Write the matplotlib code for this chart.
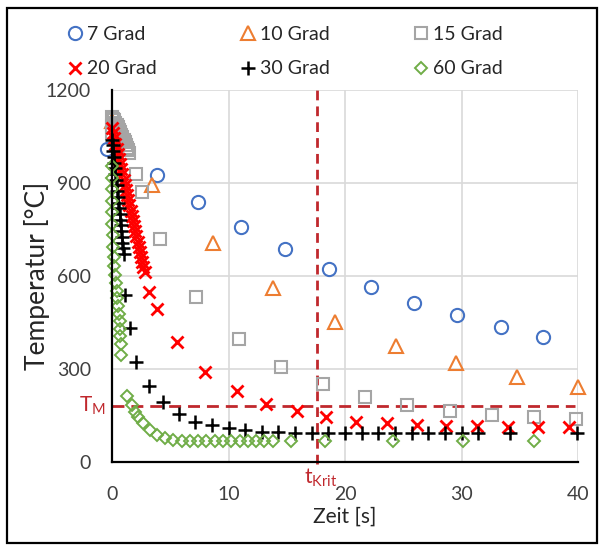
import numpy as np
import matplotlib
matplotlib.use("Agg")
import matplotlib.pyplot as plt
from matplotlib.patches import Rectangle

plt.rcParams['font.family'] = ['Lato', 'DejaVu Sans']
plt.rcParams['mathtext.fontset'] = 'custom'
plt.rcParams['mathtext.rm'] = 'Lato'
plt.rcParams['mathtext.it'] = 'Lato'

# Data (Zeit [s], Temperatur [°C])

t7 = [-0.4, 3.9, 7.4, 11.1, 14.85, 18.6, 22.2, 25.95, 29.6, 33.4, 37.0]
T7 = [1010, 926, 839, 758, 687, 622, 563, 514, 473, 435, 402]

t10 = [0.0, 3.46, 8.7, 13.85, 19.1, 24.4, 29.5, 34.8, 40.0]
T10 = [1100, 893, 705, 560, 453, 375, 320, 273, 243]

t15 = [0.0, 0.0, 0.0, 0.1, 0.2, 0.3, 0.4, 0.5, 0.6, 0.7, 0.8, 0.9, 1.0, 1.1, 1.2, 1.3, 1.4, 1.5,
       2.06, 2.55, 4.12, 7.25, 10.9, 14.5, 18.1, 21.7, 25.3, 29.0, 32.6, 36.25, 39.8]
T15 = [1112, 1085, 1060, 1108, 1102, 1095, 1087, 1080, 1072, 1064, 1056, 1048, 1040, 1031, 1022, 1014, 1005, 997,
       929, 870, 718, 533, 396, 308, 251, 211, 183, 163, 152, 144, 140]

t20 = [0.0, 0.1, 0.2, 0.3, 0.4, 0.5, 0.6, 0.7, 0.8, 0.9, 1.0, 1.1, 1.2, 1.3, 1.4, 1.5, 1.6, 1.7, 1.8, 1.9,
       2.0, 2.1, 2.2, 2.3, 2.4, 2.5, 2.6, 2.7, 2.8,
       3.2, 3.9, 5.55, 8.0, 10.7, 13.2, 15.85, 18.4, 20.95, 23.6, 26.2, 28.7, 31.3, 34.0, 36.6, 39.2]
T20 = [1077, 1060, 1044, 1027, 1011, 994, 977, 961, 944, 928, 911, 894, 878, 861, 845, 828, 811, 795, 778, 761,
       745, 728, 711, 695, 678, 662, 645, 628, 612,
       549, 492, 388, 289, 230, 187, 165, 146, 130, 125, 119, 117, 116, 112, 112, 112]

t30 = [0.0, 0.05, 0.1, 0.15, 0.2, 0.25, 0.3, 0.35, 0.4, 0.45, 0.5, 0.55, 0.6, 0.65, 0.7, 0.75, 0.8, 0.85,
       0.9, 0.95, 1.0,
       1.1, 1.55, 2.1, 3.2, 4.4, 5.75, 7.1, 8.6, 10.0, 11.45, 12.9, 14.25, 15.7, 17.15, 18.55, 20.0, 21.45,
       22.8, 24.3, 25.75, 27.1, 28.6, 30.0, 31.4, 34.2, 39.9]
T30 = [1040, 1022, 1003, 985, 966, 948, 929, 911, 892, 874, 855, 837, 818, 800, 781, 763, 744, 726,
       707, 689, 670,
       539, 431, 324, 245, 195, 156, 130, 119, 111, 103, 98, 96, 95, 95, 95, 95, 95,
       95, 95, 95, 95, 95, 95, 95, 95, 95]

t60 = [0.0, 0.0, 0.0, 0.0, 0.02, 0.04, 0.07, 0.1, 0.15, 0.2, 0.26, 0.33, 0.4, 0.46, 0.54, 0.6, 0.65,
       0.69, 0.72, 0.74, 0.76,
       1.26, 1.7, 1.97, 2.26, 2.7, 3.26, 3.84, 4.55, 5.26, 5.98, 6.7, 7.4, 8.1, 8.8, 9.5, 10.2, 10.95,
       11.65, 12.35, 13.05, 13.8, 15.4, 18.3, 24.1, 30.1, 36.2]
T60 = [955, 917, 880, 842, 805, 768, 731, 695, 660, 632, 604, 578, 553, 528, 502, 478, 455,
       430, 405, 380, 345,
       213, 184, 162, 146, 125, 103, 87, 77, 71, 69, 68, 68, 67, 67, 67, 67, 67,
       67, 67, 67, 67, 68, 68, 68, 68, 68]

T_M = 180
t_krit = 17.6

red_dash = '#C0282D'
tick_col = '#404040'

fig = plt.figure(figsize=(6.04, 5.45), dpi=100)
ax = fig.add_axes([112/604, 1 - 462/545, 466/604, 372/545])

ax.plot(t7, T7, 'o', ls='none', ms=9.5, mfc='none', mec='#4472C4', mew=1.5, label='7 Grad', clip_on=False)
ax.plot(t10, T10, '^', ls='none', ms=9.5, mfc='none', mec='#ED7D31', mew=1.5, label='10 Grad', clip_on=False)
ax.plot(t15, T15, 's', ls='none', ms=9, mfc='none', mec='#A5A5A5', mew=1.5, label='15 Grad', clip_on=False)
ax.plot(t20, T20, 'x', ls='none', ms=8.5, mec='#FF0000', mew=2, label='20 Grad', clip_on=False)
ax.plot(t30, T30, '+', ls='none', ms=9.5, mec='black', mew=1.8, label='30 Grad', clip_on=False)
ax.plot(t60, T60, 'D', ls='none', ms=6.5, mfc='none', mec='#70AD47', mew=1.4, label='60 Grad', clip_on=False)

# reference lines
ax.plot([0, 39.7], [T_M, T_M], color=red_dash, lw=2, dashes=(4.3, 2.5), zorder=1)
ax.plot([t_krit, t_krit], [-8, 1200], color=red_dash, lw=2, dashes=(3.5, 2.2), zorder=1, clip_on=False)

ax.set_xlim(0, 40)
ax.set_ylim(0, 1200)
ax.set_xticks([0, 10, 20, 30, 40])
ax.set_yticks([0, 300, 600, 900, 1200])
ax.grid(True, color='#D9D9D9', lw=1.2, zorder=0)
ax.set_axisbelow(True)
for s in ['top', 'right']:
    ax.spines[s].set_visible(False)
for s in ['left', 'bottom']:
    ax.spines[s].set_linewidth(1.6)
    ax.spines[s].set_color('black')
ax.tick_params(length=0, labelsize=14, colors=tick_col)
ax.tick_params(axis='x', pad=17)
ax.tick_params(axis='y', pad=15)

ax.set_xlabel('Zeit [s]', fontsize=15, color='#262626', labelpad=3)
ax.set_ylabel('Temperatur [°C]', fontsize=19, color='#262626', labelpad=-3)

ax.text(-0.55, T_M, r'T$_\mathrm{M}$', color=red_dash, fontsize=15, ha='right', va='center')
ax.text(t_krit + 0.3, -50, r't$_\mathrm{Krit}$', color=red_dash, fontsize=15, ha='center', va='center')

h, l = ax.get_legend_handles_labels()
order = [0, 3, 1, 4, 2, 5]
fig.legend([h[i] for i in order], [l[i] for i in order], ncol=3, loc='upper left',
           bbox_to_anchor=(67/604, 1 - 26/545), frameon=False, fontsize=14, numpoints=1,
           handlelength=0.8, handletextpad=0.25, columnspacing=4.25, labelspacing=0.9,
           borderpad=0, borderaxespad=0, labelcolor='#262626')

fig.patches.append(Rectangle((7/604, 2/545), 590/604, 535/545, transform=fig.transFigure,
                             fill=False, edgecolor='black', lw=1.6))

fig.savefig('out.png', dpi=100)
